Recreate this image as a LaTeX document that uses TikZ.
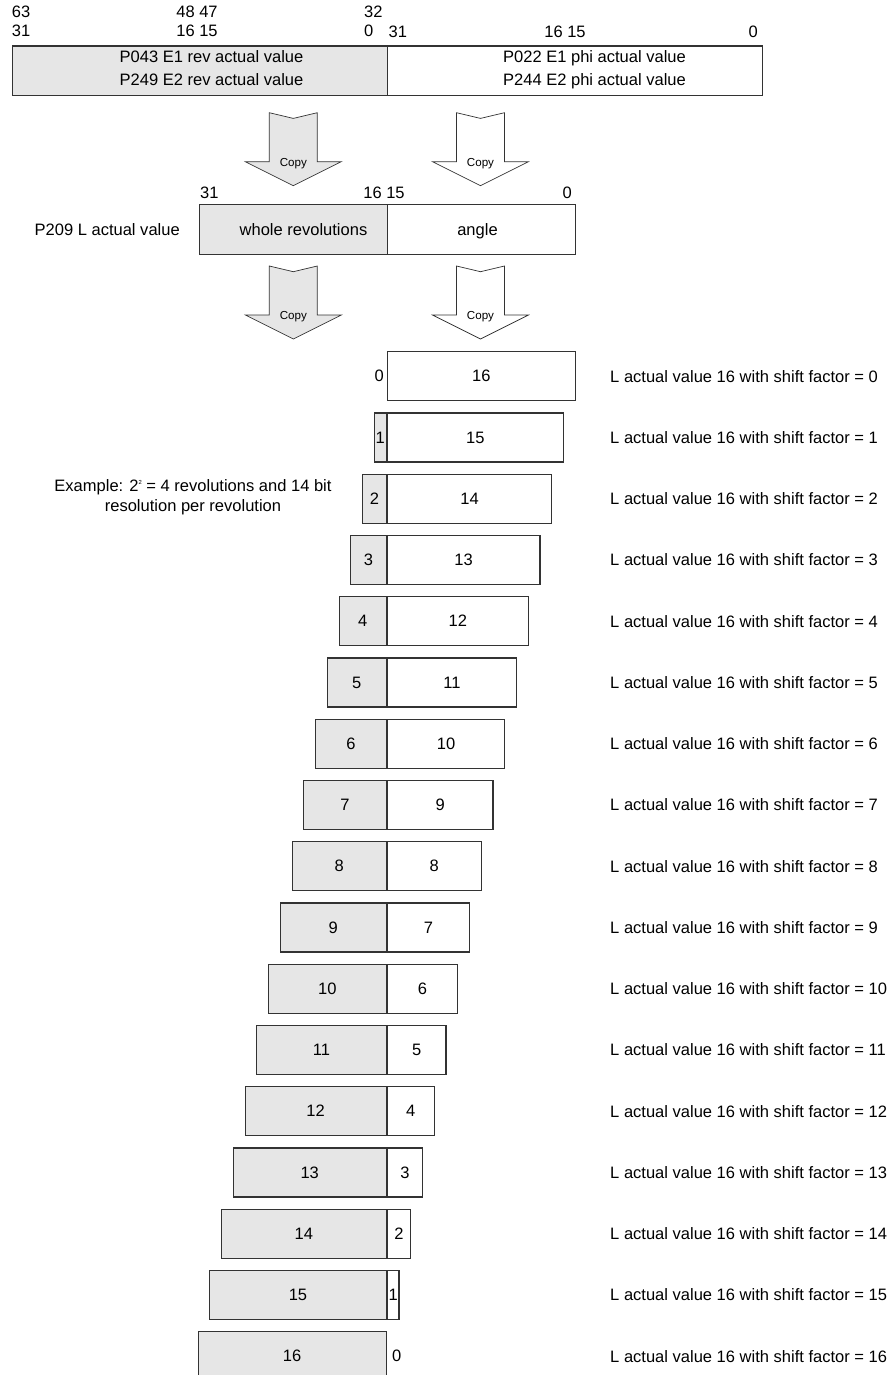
\documentclass[tikz,border=0pt]{standalone}
\usepackage{fontspec}
\setmainfont{Liberation Sans}
\usetikzlibrary{positioning}
\definecolor{shiftgray}{HTML}{E6E6E6}
\definecolor{shiftink}{HTML}{333333}
\newcommand{\bitfont}{\fontsize{14.1}{17}\selectfont}
\newcommand{\copyfont}{\fontsize{9.9}{12}\selectfont}

% block arrow with a notched tail: node name, top centre, fill
\newcommand{\copyarrow}[3]{%
  \draw[shiftink,line width=.6pt,line join=miter,fill=#3] (#2) ++(-24,0)
    -- ++(24,5.7) -- ++(24,-5.7) -- ++(0,49) -- ++(24,0)
    -- ++(-48,24) -- ++(-48,-24) -- ++(24,0) -- cycle;
  \path (#2) ++(0,51) node[font=\copyfont] (#1) {Copy};}

\tikzset{
  bitbox/.style={draw=shiftink,line width=1pt,inner sep=0pt,
    minimum height=1.47cm,font=\bitfont},
  bitnum/.style={font=\bitfont,inner sep=0pt,anchor=base}
}

\begin{document}
\begin{tikzpicture}[x=0.03cm,y=-0.03cm]
    \clip (0,0) rectangle (891,1375);

    % 64 bit source: revolutions and phi
    \node[bitbox,fill=shiftgray,anchor=north west,minimum width=11.256cm] (rev) at (11.5,45.5) {};
    \node[bitbox,fill=white,anchor=north west,minimum width=11.25cm] (phi) at (386.7,45.5) {};
    \node[font=\bitfont,align=center,anchor=base] (revtext) at (211.5,85.3)
      {P043 E1 rev actual value\\[2.6pt]P249 E2 rev actual value};
    \node[font=\bitfont,align=center,anchor=base] (phitext) at (594.5,85.3)
      {P022 E1 phi actual value\\[2.6pt]P244 E2 phi actual value};

    \node[bitnum,anchor=base west] (b63) at (11.7,18) {63};
    \node[bitnum,anchor=base west] (b31a) at (11.7,37) {31};
    \node[bitnum] (b48) at (197,18) {48 47};
    \node[bitnum] (b16a) at (197,37) {16 15};
    \node[bitnum,anchor=base west] (b32) at (364,18) {32};
    \node[bitnum,anchor=base west] (b0a) at (364,37) {0};
    \node[bitnum,anchor=base west] (b31b) at (388.5,38) {31};
    \node[bitnum] (b16b) at (565,38) {16 15};
    \node[bitnum,anchor=base east] (b0b) at (758,38) {0};

    \copyarrow{copyrev}{293.3,112.7}{shiftgray}
    \copyarrow{copyphi}{480.5,112.7}{white}

    % 32 bit L actual value
    \node[bitbox,fill=shiftgray,anchor=north west,minimum width=5.631cm,minimum height=1.5cm] (lrev) at (199,204) {};
    \node[bitbox,fill=white,anchor=north west,minimum width=5.65cm,minimum height=1.5cm] (lphi) at (386.7,204) {};
    \node[bitnum] (whole) at (303.5,235) {whole revolutions};
    \node[bitnum] (angle) at (477.5,235) {angle};
    \node[bitnum,anchor=base east] (lname) at (180,235) {P209 L actual value};
    \node[bitnum,anchor=base west] (l31) at (200,198) {31};
    \node[bitnum] (l16) at (384,198) {16 15};
    \node[bitnum,anchor=base east] (l0) at (572,198) {0};

    \copyarrow{copylrev}{293.3,266}{shiftgray}
    \copyarrow{copylphi}{480.5,266}{white}

    % shifted values, one row per shift factor
    \foreach \k in {0,...,16}{
      \pgfmathsetmacro{\rowy}{376.2+61.25*\k}
      \pgfmathtruncatemacro{\rest}{16-\k}
      \ifnum\k>0
        \node[bitbox,fill=shiftgray,anchor=east,minimum width={\k*0.3525cm}] (g\k) at (386.7,\rowy) {\k};
      \else
        \node[font=\bitfont,inner sep=0pt,anchor=east] (g\k) at (384,\rowy) {0};
      \fi
      \ifnum\rest>0
        \node[bitbox,fill=white,anchor=west,minimum width={\rest*0.3525cm}] (w\k) at (386.7,\rowy) {\rest};
      \else
        \node[font=\bitfont,inner sep=0pt,anchor=west] (w\k) at (392,\rowy) {0};
      \fi
      \node[font=\bitfont,inner sep=0pt,anchor=west] (shift\k) at (610,\rowy)
        {L actual value 16 with shift factor = \k};
    }

    \node[font=\fontsize{14.1}{16.7}\selectfont,align=center] (example) at (193,497)
      {Example: 2\raisebox{0.75ex}{\fontsize{5}{5}\selectfont 2} = 4 revolutions and 14 bit\\resolution per revolution};
\end{tikzpicture}
\end{document}
